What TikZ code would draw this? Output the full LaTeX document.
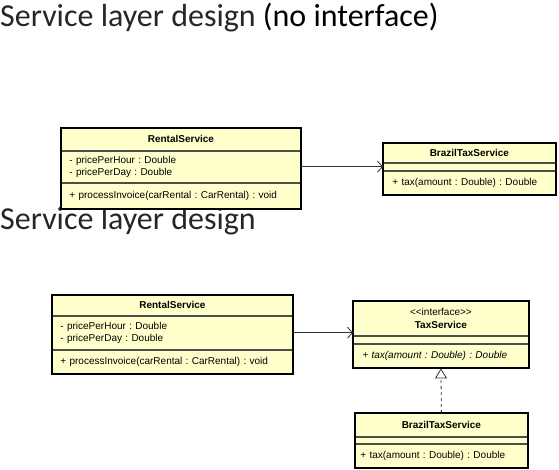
\documentclass[tikz,border=0pt]{standalone}
\usepackage{fontspec}
\setmainfont{Carlito}
\newfontfamily\umlfont{Liberation Sans}
\usetikzlibrary{positioning}
\usetikzlibrary{arrows.meta}
\definecolor{umlyellow}{RGB}{255,255,204}

\begin{document}
\begin{tikzpicture}[
                x=1pt, y=-1pt,
                titletext/.style={anchor=base west, inner sep=0pt, font=\fontsize{32}{38}\selectfont},
                namebox/.style={rectangle, draw=black!70, line width=0.8pt, fill=umlyellow, anchor=north west, inner sep=0pt, align=center, font=\umlfont\fontsize{10}{12}\selectfont\frenchspacing\bfseries},
                membox/.style={rectangle, draw=black!70, line width=0.8pt, fill=umlyellow, inner xsep=5pt, inner ysep=0pt, align=left, font=\umlfont\fontsize{10}{12}\selectfont\frenchspacing},
                outline/.style={draw=black, line width=2pt},
                depend/.style={-{Straight Barb[length=5pt,width=11pt]}, draw=black!80, line width=0.8pt},
                realize/.style={-{Triangle[open,length=10pt,width=12pt]}, dashed, draw=black!80, line width=0.8pt},
            ]
            \useasboundingbox (0,0) rectangle (559,470);

            % Titles
            \node[titletext]        (title_top)     at (0,27)       {{\color{black!85}Service layer design} (no interface)};
            \node[titletext]        (title_bottom)  at (0,230)      {\color{black!85}Service layer design};

            % Without interface
            \node[namebox, minimum width=239pt, minimum height=22pt]      (rental_name)     at (61,128)     {RentalService};
            \node[membox, inner xsep=8pt, text width=223pt, minimum height=31pt]  (rental_attr)     [below=0pt of rental_name]      {- pricePerHour : Double\\- pricePerDay : Double};
            \node[membox, inner xsep=8pt, text width=223pt, minimum height=26pt]  (rental_ops)      [below=0pt of rental_attr]      {+ processInvoice(carRental : CarRental) : void};

            \node[namebox, minimum width=172pt, minimum height=19pt]      (brazil_name)     at (383,143)    {BrazilTaxService};
            \node[membox, text width=162pt, minimum height=7pt]           (brazil_attr)     [below=0pt of brazil_name]      {};
            \node[membox, inner xsep=9pt, text width=154pt, minimum height=24pt]  (brazil_ops)      [below=0pt of brazil_attr]      {+ tax(amount : Double) : Double};

            % With interface
            \node[namebox, minimum width=240pt, minimum height=20pt]      (rental2_name)    at (52,295)     {RentalService};
            \node[membox, inner xsep=8pt, text width=224pt, minimum height=33pt]  (rental2_attr)    [below=0pt of rental2_name]     {- pricePerHour : Double\\- pricePerDay : Double};
            \node[membox, inner xsep=8pt, text width=224pt, minimum height=24pt]  (rental2_ops)     [below=0pt of rental2_attr]     {+ processInvoice(carRental : CarRental) : void};

            \node[namebox, minimum width=175pt, minimum height=34pt]      (tax_name)        at (353,301)    {{\mdseries <{}<interface>{}>}\\[1pt]TaxService};
            \node[membox, text width=165pt, minimum height=7pt]           (tax_attr)        [below=0pt of tax_name]         {};
            \node[membox, inner xsep=9pt, text width=157pt, minimum height=24pt]  (tax_ops)         [below=0pt of tax_attr]         {\itshape + tax(amount : Double) : Double};

            \node[namebox, minimum width=172pt, minimum height=23pt]      (brazil2_name)    at (355,413)    {BrazilTaxService};
            \node[membox, text width=162pt, minimum height=6pt]           (brazil2_attr)    [below=0pt of brazil2_name]     {};
            \node[membox, text width=162pt, minimum height=24pt]          (brazil2_ops)     [below=0pt of brazil2_attr]     {+ tax(amount : Double) : Double};

            % Borders
            \draw[outline] (rental_name.north west) rectangle (rental_ops.south east);
            \draw[outline] (brazil_name.north west) rectangle (brazil_ops.south east);
            \draw[outline] (rental2_name.north west) rectangle (rental2_ops.south east);
            \draw[outline] (tax_name.north west) rectangle (tax_ops.south east);
            \draw[outline] (brazil2_name.north west) rectangle (brazil2_ops.south east);

            % Lines
            \draw[depend] (rental_attr.east) -- (brazil_attr.west);
            \draw[depend] (rental2_attr.east) -- (rental2_attr.east -| tax_name.west);
            \draw[realize] (brazil2_name.north) -- (tax_ops.south);
        \end{tikzpicture}
\end{document}
